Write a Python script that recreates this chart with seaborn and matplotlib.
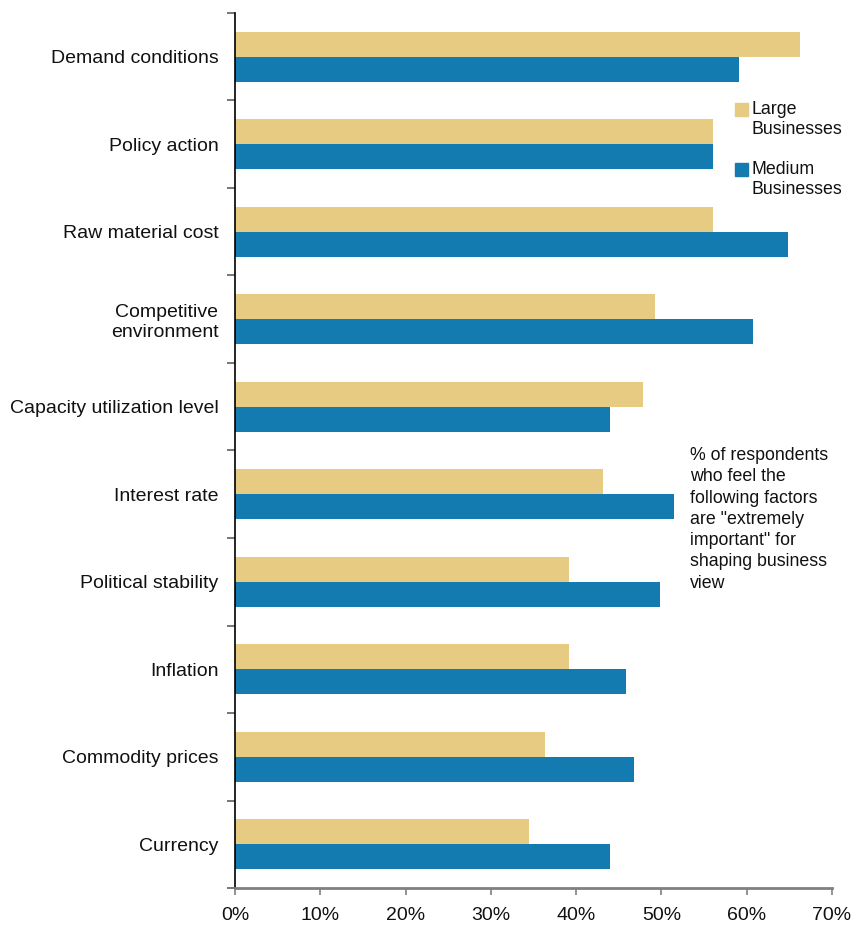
import matplotlib
matplotlib.use("Agg")
import matplotlib.pyplot as plt
import matplotlib.patches as mpatches
from matplotlib.ticker import FixedLocator, PercentFormatter
import numpy as np
import pandas as pd
import seaborn as sns

categories = ["Demand conditions", "Policy action", "Raw material cost",
              "Competitive\nenvironment", "Capacity utilization level",
              "Interest rate", "Political stability", "Inflation",
              "Commodity prices", "Currency"]
large = [66.2, 56.1, 56.1, 49.3, 47.8, 43.1, 39.2, 39.2, 36.3, 34.5]
medium = [59.1, 56.1, 64.9, 60.8, 44.0, 51.5, 49.8, 45.8, 46.8, 44.0]
series = ["Large\nBusinesses", "Medium\nBusinesses"]
colors = ["#E8CB82", "#147BB0"]
xticks = [0, 10, 20, 30, 40, 50, 60, 70]
note = ('% of respondents\nwho feel the\nfollowing factors\nare "extremely\n'
        'important" for\nshaping business\nview')

df = pd.DataFrame({
    "factor": categories * 2,
    "value": large + medium,
    "series": [series[0]] * len(categories) + [series[1]] * len(categories),
})

sns.set_theme(style="white")
plt.rcParams["font.family"] = ["Liberation Sans", "DejaVu Sans"]

FS = 14.0
fig = plt.figure(figsize=(8.55, 9.26), dpi=100)
ax = fig.add_axes([0.275, 0.041, 0.698, 0.945])

sns.barplot(data=df, y="factor", x="value", hue="series", order=categories,
            hue_order=series, palette=colors, orient="h", width=0.57,
            linewidth=0, saturation=1, ax=ax, legend=False)

ax.set_xlim(0, 70)
ax.set_ylim(len(categories) - 0.5, -0.5)
ax.set_xlabel("")
ax.set_ylabel("")
ax.xaxis.set_major_locator(FixedLocator(xticks))
ax.xaxis.set_major_formatter(PercentFormatter(decimals=0))
ax.tick_params(axis="x", labelsize=FS, length=5, width=1.2, color="#808080",
               pad=9, labelcolor="#111111", bottom=True)
ax.tick_params(axis="y", which="major", labelsize=FS, length=0, pad=12,
               labelcolor="#111111")
ax.yaxis.set_minor_locator(FixedLocator(np.arange(-0.5, len(categories), 1.0)))
ax.tick_params(axis="y", which="minor", length=6, width=1.2, color="#606060",
               left=True)
for lbl in ax.get_yticklabels():
    lbl.set_multialignment("right")
    lbl.set_linespacing(1.25)

for s in ["top", "right"]:
    ax.spines[s].set_visible(False)
ax.spines["left"].set_color("#000000")
ax.spines["left"].set_linewidth(1.2)
ax.spines["bottom"].set_color("#808080")
ax.spines["bottom"].set_linewidth(2)

# legend
W, H = 855, 926
for i, (lab, col) in enumerate(zip(series, colors)):
    ytop = [103, 163][i]
    fig.patches.append(mpatches.Rectangle((735 / W, 1 - (ytop + 13) / H), 13 / W, 13 / H,
                                          transform=fig.transFigure, color=col))
    fig.text(751 / W, 1 - (ytop - 2) / H, lab, ha="left", va="top", fontsize=12.8,
             color="#111111", linespacing=1.22)

fig.text(690 / W, 1 - 447 / H, note, ha="left", va="top", fontsize=12.8,
         color="#111111", linespacing=1.33)

fig.savefig("out.png", dpi=100)
